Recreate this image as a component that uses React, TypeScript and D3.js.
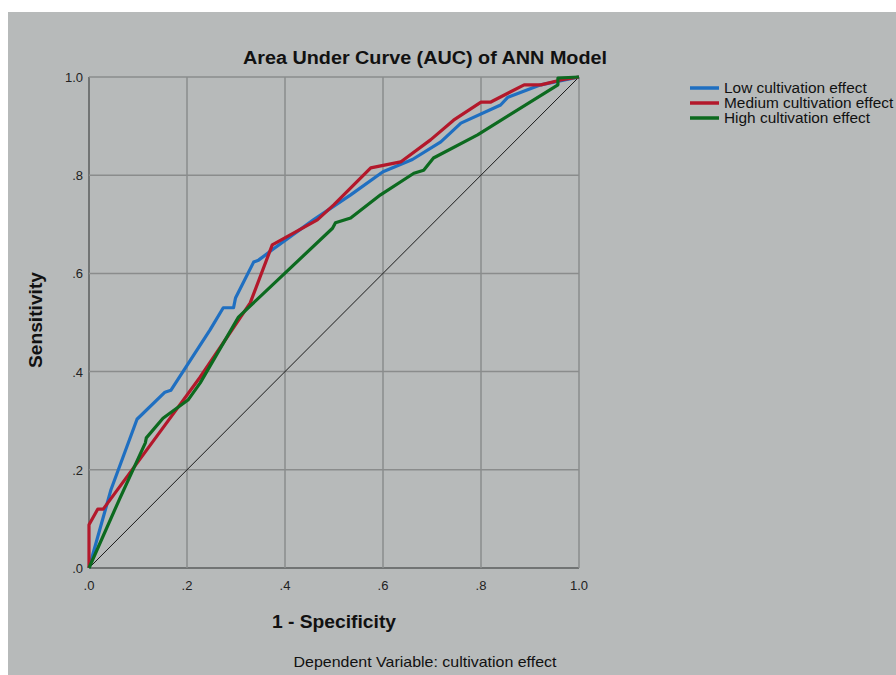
import React, { useEffect, useRef } from 'react';
import * as d3 from 'd3';

// ROC points [1 - specificity, sensitivity]
const lowCurve: [number, number][] = [
  [0, 0], [0.045, 0.16], [0.098, 0.303], [0.155, 0.358], [0.167, 0.362],
  [0.247, 0.485], [0.274, 0.53], [0.295, 0.53], [0.299, 0.55], [0.336, 0.623],
  [0.346, 0.627], [0.374, 0.648], [0.458, 0.709], [0.534, 0.76], [0.6, 0.807],
  [0.66, 0.832], [0.718, 0.868], [0.759, 0.906], [0.84, 0.943], [0.855, 0.959],
  [0.922, 0.984], [1, 1],
];
const mediumCurve: [number, number][] = [
  [0, 0], [0, 0.088], [0.018, 0.12], [0.029, 0.12], [0.155, 0.291],
  [0.227, 0.389], [0.329, 0.54], [0.374, 0.658], [0.466, 0.709], [0.5, 0.74],
  [0.575, 0.815], [0.636, 0.827], [0.697, 0.872], [0.744, 0.912], [0.8, 0.949],
  [0.82, 0.949], [0.888, 0.984], [0.922, 0.984], [0.963, 0.994], [1, 1],
];
const highCurve: [number, number][] = [
  [0, 0], [0.063, 0.142], [0.115, 0.255], [0.117, 0.265], [0.151, 0.305],
  [0.202, 0.342], [0.227, 0.377], [0.305, 0.511], [0.497, 0.692], [0.503, 0.703],
  [0.534, 0.713], [0.595, 0.76], [0.663, 0.804], [0.683, 0.81], [0.703, 0.835],
  [0.793, 0.882], [0.957, 0.984], [0.957, 0.998], [1, 1],
];

const seriesNames = ['Low cultivation effect', 'Medium cultivation effect', 'High cultivation effect'];
const seriesColors = ['#1f6fc1', '#b3182b', '#0c6a1f'];
const tickValues = [0, 0.2, 0.4, 0.6, 0.8, 1.0];
const tickLabels = ['.0', '.2', '.4', '.6', '.8', '1.0'];

const App = () => {
  const svgRef = useRef<SVGSVGElement>(null);

  useEffect(() => {
    document.body.style.margin = '0';
    const width = 896, height = 675;
    const svg = d3.select(svgRef.current);
    svg.selectAll('*').remove();
    svg.attr('width', width).attr('height', height)
      .style('display', 'block')
      .style('font-family', 'Liberation Sans, Arial, sans-serif');

    svg.append('rect')
      .attr('x', 8).attr('y', 12)
      .attr('width', width - 8).attr('height', height - 12)
      .attr('fill', '#b7baba');

    const x = d3.scaleLinear().domain([0, 1]).range([89, 579]);
    const y = d3.scaleLinear().domain([0, 1]).range([568, 77]);

    // grid
    const grid = svg.append('g');
    tickValues.forEach(t => {
      grid.append('line')
        .attr('x1', x(t)).attr('x2', x(t)).attr('y1', y(0)).attr('y2', y(1))
        .attr('stroke', t === 0 ? '#5a5c5c' : '#8a8c8c').attr('stroke-width', 1.5);
      grid.append('line')
        .attr('y1', y(t)).attr('y2', y(t)).attr('x1', x(0)).attr('x2', x(1))
        .attr('stroke', t === 0 ? '#5a5c5c' : '#8a8c8c').attr('stroke-width', 1.5);
    });

    // tick labels
    tickValues.forEach((t, i) => {
      svg.append('text')
        .attr('x', x(t)).attr('y', 590)
        .attr('text-anchor', 'middle')
        .attr('font-size', 13).attr('fill', '#222')
        .text(tickLabels[i]);
      svg.append('text')
        .attr('x', 83).attr('y', y(t) + 5)
        .attr('text-anchor', 'end')
        .attr('font-size', 13).attr('fill', '#222')
        .text(tickLabels[i]);
    });

    // reference diagonal
    svg.append('line')
      .attr('x1', x(0)).attr('y1', y(0)).attr('x2', x(1)).attr('y2', y(1))
      .attr('stroke', '#1a1a1a').attr('stroke-width', 1);

    const line = d3.line<[number, number]>().x(d => x(d[0])).y(d => y(d[1]));
    [lowCurve, mediumCurve, highCurve].forEach((c, i) => {
      svg.append('path')
        .datum(c)
        .attr('d', line)
        .attr('fill', 'none')
        .attr('stroke', seriesColors[i])
        .attr('stroke-width', 3.2)
        .attr('stroke-linejoin', 'round');
    });

    // titles
    svg.append('text')
      .attr('x', 425).attr('y', 64)
      .attr('text-anchor', 'middle')
      .attr('font-size', 18).attr('font-weight', 'bold').attr('fill', '#111')
      .attr('textLength', 364).attr('lengthAdjust', 'spacingAndGlyphs')
      .text('Area Under Curve (AUC) of ANN Model');

    svg.append('text')
      .attr('x', 334).attr('y', 628)
      .attr('text-anchor', 'middle')
      .attr('font-size', 19).attr('font-weight', 'bold').attr('fill', '#111')
      .attr('textLength', 124).attr('lengthAdjust', 'spacingAndGlyphs')
      .text('1 - Specificity');

    svg.append('text')
      .attr('transform', `translate(42,${320}) rotate(-90)`)
      .attr('text-anchor', 'middle')
      .attr('font-size', 19).attr('font-weight', 'bold').attr('fill', '#111')
      .attr('textLength', 96).attr('lengthAdjust', 'spacingAndGlyphs')
      .text('Sensitivity');

    svg.append('text')
      .attr('x', 425).attr('y', 667)
      .attr('text-anchor', 'middle')
      .attr('font-size', 15).attr('fill', '#111')
      .attr('textLength', 263).attr('lengthAdjust', 'spacingAndGlyphs')
      .text('Dependent Variable: cultivation effect');

    // legend
    const legend = svg.append('g');
    seriesNames.forEach((name, i) => {
      const ly = 88 + i * 15;
      legend.append('line')
        .attr('x1', 690).attr('x2', 719).attr('y1', ly).attr('y2', ly)
        .attr('stroke', seriesColors[i]).attr('stroke-width', 3.5);
      const t = legend.append('text')
        .attr('x', 724).attr('y', ly + 5)
        .attr('font-size', 14).attr('fill', '#111')
        .text(name);
      const natural = (t.node() as SVGTextElement).getComputedTextLength();
      t.attr('textLength', natural * 1.1).attr('lengthAdjust', 'spacingAndGlyphs');
    });
  }, []);

  return <svg ref={svgRef} />;
};

export default App;
